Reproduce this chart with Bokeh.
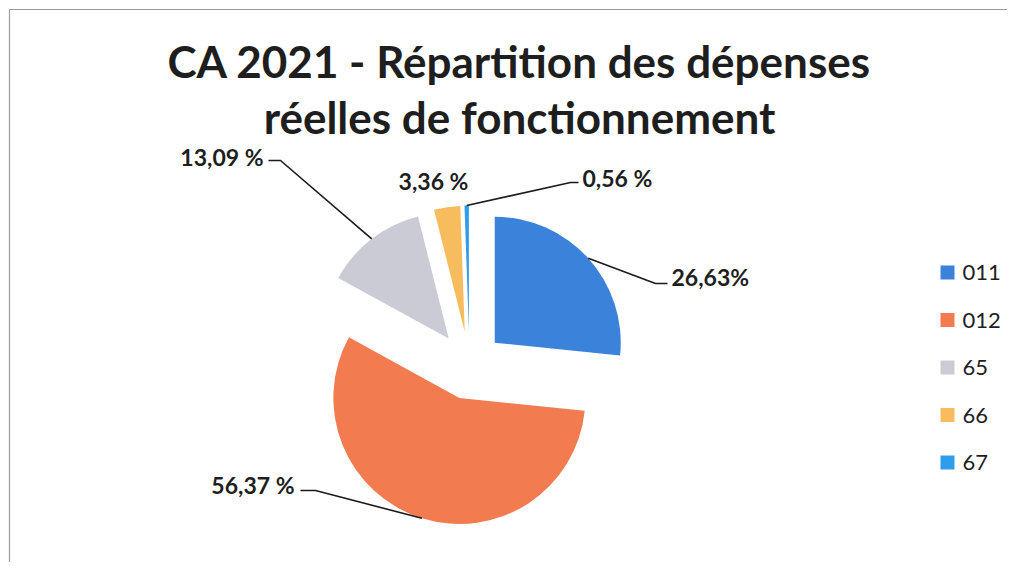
import math
from bokeh.plotting import figure
from bokeh.models import Range1d, ColumnDataSource
from bokeh.core.properties import value
from bokeh.embed import file_html
from bokeh.resources import INLINE

# ---- data ----
categories = ["011", "012", "65", "66", "67"]
shares = [26.63, 56.37, 13.09, 3.36, 0.56]
labels = ["26,63%", "56,37 %", "13,09 %", "3,36 %", "0,56 %"]
colors = ["#3B83DA", "#F27B4F", "#CACBD5", "#F6BC5E", "#2F9DEA"]
title_lines = ["CA 2021 - Répartition des dépenses", "réelles de fonctionnement"]

# ---- layout (picture px, converted to data coords with y = H - y_pic) ----
W, H = 1007, 562
def sy(y):
    return H - y

FONT = "Lato"
cx, cy = 469, sy(365)
R = 126
EXPLODE = 34

p = figure(width=W, height=H, output_backend="svg", toolbar_location=None,
           x_range=Range1d(0, W), y_range=Range1d(0, H),
           min_border=0)
p.axis.visible = False
p.grid.visible = False
p.outline_line_color = None
p.background_fill_color = "white"
p.border_fill_color = "white"

# frame lines (top and left, as in the scan)
p.line([9, W], [sy(9), sy(9)], line_color="#9a9a9a", line_width=1.2)
p.line([9, 9], [sy(9), 0], line_color="#9a9a9a", line_width=1.2)

# ---- pie ----
total = sum(shares)
xs, ys, sa, ea, mids = [], [], [], [], []
acc = 0.0
for v in shares:
    t0 = acc / total * 360.0
    acc += v
    t1 = acc / total * 360.0
    tm = math.radians((t0 + t1) / 2)
    mids.append(tm)
    xs.append(cx + EXPLODE * math.sin(tm))
    ys.append(cy + EXPLODE * math.cos(tm))
    sa.append(math.radians(90 - t0))
    ea.append(math.radians(90 - t1))

src = ColumnDataSource(dict(x=xs, y=ys, start=sa, end=ea, color=colors, cat=categories))
p.wedge(x="x", y="y", radius=R, start_angle="start", end_angle="end",
        direction="clock", fill_color="color", line_color=None, source=src)

# ---- data labels with leader lines ----
label_layout = [
    ((655, 283, 667), 671, 276, "left"),
    ((315, 490, 300), 294, 484, "right"),
    ((280, 160, 268), 263, 156, "right"),
    (None, 433, 180, "center"),
    ((570, 182, 578), 582, 177, "left"),
]
for i, (lead, tx, ty, al) in enumerate(label_layout):
    if lead is not None:
        ex, ey, endx = lead
        ax = xs[i] + R * math.sin(mids[i])
        ay = ys[i] + R * math.cos(mids[i])
        p.line([ax, ex, endx], [ay, sy(ey), sy(ey)], line_color="#1a1a1a", line_width=1.6)
    p.text(x=[tx], y=[sy(ty)], text=[labels[i]], text_align=al, text_baseline="middle",
           text_font=value(FONT), text_font_style="bold", text_font_size="23px",
           text_color="#1e1e1e")

# ---- title ----
for j, line in enumerate(title_lines):
    p.text(x=[519], y=[sy(60 + 56 * j)], text=[line], text_align="center",
           text_baseline="middle", text_font=value(FONT), text_font_style="bold",
           text_font_size="44px", text_color="#1e1e1e")

# ---- legend ----
ly = [sy(272 + 47.5 * k) for k in range(len(categories))]
p.scatter(x=[947] * len(categories), y=ly, marker="square", size=14,
          fill_color=colors, line_color=None)
p.text(x=[962] * len(categories), y=ly, text=categories, text_align="left",
       text_baseline="middle", text_font=value(FONT), text_font_size="22px",
       text_color="#1e1e1e")

open("out.html", "w").write(file_html(p, INLINE))
